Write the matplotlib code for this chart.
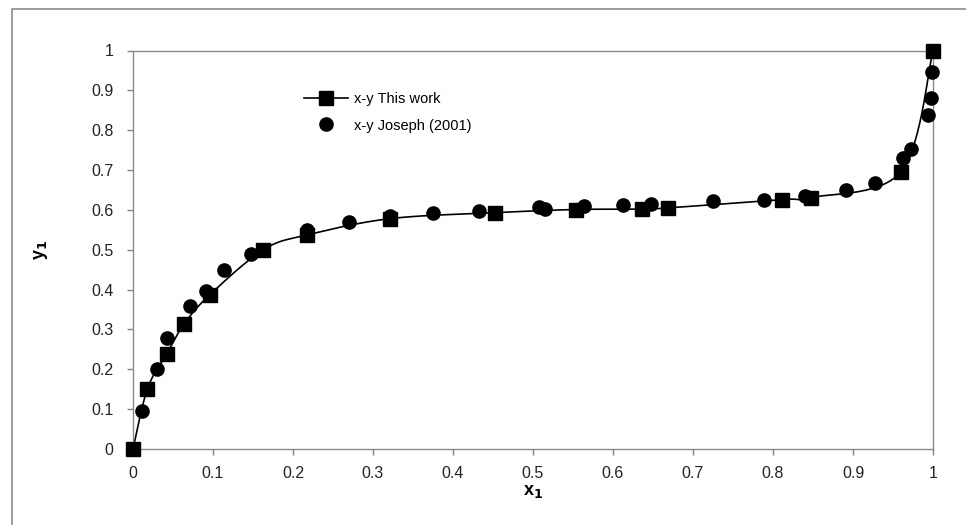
import numpy as np
import matplotlib
matplotlib.use("Agg")
import matplotlib.pyplot as plt
from matplotlib.patches import Rectangle

plt.rcParams['font.family'] = ['Liberation Sans', 'DejaVu Sans']

# x-y equilibrium data (liquid mole fraction x1, vapour mole fraction y1)
x_this_work = [0.0, 0.018, 0.042, 0.064, 0.096, 0.163, 0.217, 0.321,
               0.452, 0.554, 0.636, 0.669, 0.811, 0.848, 0.960, 1.0]
y_this_work = [0.0, 0.151, 0.238, 0.314, 0.387, 0.500, 0.537, 0.578,
               0.593, 0.601, 0.602, 0.605, 0.626, 0.631, 0.696, 1.0]

x_joseph = [0.011, 0.030, 0.043, 0.071, 0.091, 0.114, 0.148, 0.217, 0.270,
            0.321, 0.375, 0.432, 0.507, 0.515, 0.564, 0.613, 0.647, 0.725,
            0.789, 0.840, 0.891, 0.927, 0.962, 0.972, 0.994, 0.997, 0.999]
y_joseph = [0.096, 0.200, 0.279, 0.359, 0.396, 0.449, 0.490, 0.550, 0.569,
            0.584, 0.591, 0.597, 0.607, 0.602, 0.609, 0.612, 0.614, 0.622,
            0.626, 0.636, 0.650, 0.668, 0.730, 0.752, 0.838, 0.882, 0.945]

x_ticks = [0, 0.1, 0.2, 0.3, 0.4, 0.5, 0.6, 0.7, 0.8, 0.9, 1]
y_ticks = [0, 0.1, 0.2, 0.3, 0.4, 0.5, 0.6, 0.7, 0.8, 0.9, 1]
x_tick_labels = ['0', '0.1', '0.2', '0.3', '0.4', '0.5', '0.6', '0.7', '0.8', '0.9', '1']
y_tick_labels = ['0', '0.1', '0.2', '0.3', '0.4', '0.5', '0.6', '0.7', '0.8', '0.9', '1']


def smooth_curve(xs, ys, n=30):
    """Cubic Bezier smoothing through the points (spreadsheet-style smoothed line)."""
    p = np.column_stack([xs, ys]).astype(float)
    out = []
    for i in range(len(p) - 1):
        p0 = p[i - 1] if i > 0 else p[i]
        p1 = p[i]
        p2 = p[i + 1]
        p3 = p[i + 2] if i + 2 < len(p) else p[i + 1]
        c1 = p1 + (p2 - p0) / 6.0
        c2 = p2 - (p3 - p1) / 6.0
        t = np.linspace(0, 1, n)[:, None]
        seg = ((1 - t) ** 3) * p1 + 3 * ((1 - t) ** 2) * t * c1 \
            + 3 * (1 - t) * t ** 2 * c2 + t ** 3 * p2
        out.append(seg if i == 0 else seg[1:])
    return np.vstack(out)


fig = plt.figure(figsize=(9.66, 5.25), dpi=100)
fig.patch.set_facecolor('white')

# outer chart frame
fig.add_artist(Rectangle((12 / 966, -0.05), 1.2, 1 - 9 / 525 + 0.05,
                         transform=fig.transFigure, fill=False,
                         edgecolor='#8c8c8c', linewidth=1.2))

ax = fig.add_axes([133 / 966, 1 - 449 / 525, 800 / 966, 398.5 / 525])

curve = smooth_curve(x_this_work, y_this_work)
ax.plot(curve[:, 0], curve[:, 1], color='black', linewidth=1.2, zorder=2)
ax.plot(x_this_work, y_this_work, linestyle='none', marker='s',
        markersize=9.5, color='black', zorder=3, clip_on=False)
ax.plot(x_joseph, y_joseph, linestyle='none', marker='o',
        markersize=9.5, color='black', zorder=3, clip_on=False)

# legend handles
ax.plot([], [], color='black', linewidth=1.2, marker='s', markersize=9.5,
        label='x-y This work')
ax.plot([], [], linestyle='none', color='black', marker='o', markersize=9.5,
        label='x-y Joseph (2001)')
leg = ax.legend(loc='upper left', bbox_to_anchor=(0.2065, 0.91), frameon=False,
                fontsize=10.5, handlelength=3.0, handletextpad=0.4,
                labelspacing=0.85, borderaxespad=0)

ax.set_xlim(0, 1)
ax.set_ylim(0, 1)
ax.set_xticks(x_ticks)
ax.set_xticklabels(x_tick_labels)
ax.set_yticks(y_ticks)
ax.set_yticklabels(y_tick_labels)
ax.tick_params(axis='both', labelsize=11.5, color='#808080', length=4,
               width=1, direction='out', labelcolor='#222222')
ax.tick_params(axis='x', pad=8)
ax.tick_params(axis='y', pad=10)
for s in ax.spines.values():
    s.set_color('#8a8a8a')
    s.set_linewidth(1.0)

ax.set_xlabel('x$_\\mathbf{1}$', fontsize=13, fontweight='bold', labelpad=2)
ax.set_ylabel('y$_\\mathbf{1}$', fontsize=13, fontweight='bold', labelpad=30)

fig.savefig('out.png', dpi=100)
